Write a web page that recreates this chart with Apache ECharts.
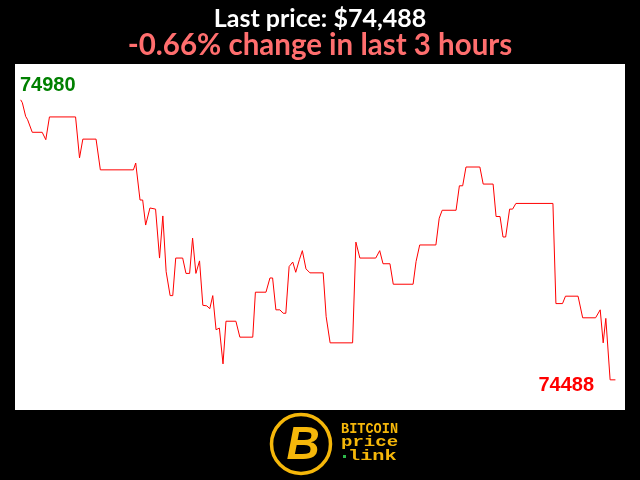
<!DOCTYPE html>
<html>
<head>
<meta charset="utf-8">
<script src="https://cdn.jsdelivr.net/npm/echarts@6/dist/echarts.min.js"></script>
<style>html,body{margin:0;padding:0;background:#000;}#c{width:640px;height:480px;}</style>
</head>
<body>
<div id="c"></div>
<script>
// minutes since start of the 3-hour window
var minutes = [0.0,0.5,1.5,2.1,2.6,3.5,6.5,7.6,8.7,16.6,17.8,18.8,22.8,24.1,34.1,34.8,36.1,36.9,37.8,39.1,39.7,40.8,42.0,43.0,44.0,45.2,46.0,46.9,49.0,50.0,51.1,52.0,53.0,54.1,55.1,56.3,57.2,58.1,59.1,60.1,61.2,62.1,65.1,66.3,70.2,71.0,74.2,75.4,76.2,77.2,78.4,79.4,80.2,81.2,82.3,83.2,84.3,85.2,86.3,87.5,91.5,92.4,93.6,100.4,101.4,102.6,107.4,108.6,109.6,111.7,112.7,118.7,119.6,120.7,125.6,126.6,127.5,131.7,132.7,133.7,134.7,138.9,139.9,142.9,143.8,145.0,145.9,146.7,147.9,148.8,149.8,161.0,161.9,163.9,164.8,168.6,169.2,170.0,173.9,175.3,176.2,177.0,178.3,179.9];
// BTC price in USD
var prices = [74980,74975,74951,74945,74942,74923,74923,74910,74950,74950,74878,74911,74911,74857,74857,74869,74804,74804,74760,74790,74790,74788,74702,74776,74678,74636,74636,74702,74702,74675,74675,74737,74675,74697,74619,74618,74613,74636,74576,74579,74516,74591,74591,74563,74563,74642,74642,74667,74667,74611,74611,74605,74605,74687,74695,74677,74699,74715,74683,74676,74676,74599,74553,74553,74730,74702,74702,74715,74692,74692,74656,74656,74696,74725,74725,74772,74786,74786,74829,74829,74862,74862,74832,74832,74775,74775,74739,74739,74788,74788,74798,74798,74622,74622,74635,74635,74633,74597,74597,74611,74553,74596,74488,74488];
var periodHours = 3;

var first = prices[0], last = prices[prices.length - 1];
var hi = Math.max.apply(null, prices);
var changePct = ((last - first) / first * 100).toFixed(2);
var seriesData = minutes.map(function (m, i) { return [m, prices[i]]; });

var gold = '#f5b70a';
var chart = echarts.init(document.getElementById('c'), null, {renderer: 'canvas'});
chart.setOption({
  backgroundColor: '#000',
  animation: false,
  title: [{
    text: 'Last price: $' + last.toLocaleString('en-US'),
    left: 'center', top: 1,
    textStyle: {color: '#fff', fontSize: 25, fontWeight: 'bold', fontFamily: 'Lato'}
  }, {
    text: changePct + '% change in last ' + periodHours + ' hours',
    left: 'center', top: 25,
    textStyle: {color: '#ff6e6e', fontSize: 29.5, fontWeight: 'bold', fontFamily: 'Lato'}
  }],
  grid: {left: 15, right: 15, top: 64, bottom: 70, show: true, backgroundColor: '#fff', borderWidth: 0},
  xAxis: {type: 'value', min: -1.72, max: 182.8, show: false},
  yAxis: {type: 'value', min: 74435, max: 75043, show: false, splitLine: {show: false}},
  series: [{
    type: 'line', data: seriesData, showSymbol: false, symbol: 'none',
    lineStyle: {color: '#ff0000', width: 1}
  }],
  graphic: [
    {type: 'text', left: 20, top: 75, style: {text: String(hi), fill: '#008000', font: 'bold 20px "Liberation Sans", Arial'}},
    {type: 'text', right: 46, top: 375, style: {text: String(last), fill: '#ff0000', font: 'bold 20px "Liberation Sans", Arial'}},
    {type: 'circle', shape: {cx: 301, cy: 444, r: 29.5}, style: {fill: '#000', stroke: gold, lineWidth: 3.5}},
    {type: 'text', x: 303, y: 446, style: {text: 'B', fill: gold, font: 'italic 900 46px "Liberation Sans"', align: 'center', verticalAlign: 'middle'}},
    {type: 'text', x: 341, y: 429, scaleX: 0.97, style: {text: 'BITCOIN', fill: gold, font: 'bold 14px "Liberation Mono"', verticalAlign: 'middle'}},
    {type: 'text', x: 341, y: 442, scaleX: 1.36, style: {text: 'price', fill: gold, font: 'bold 14px "Liberation Mono"', verticalAlign: 'middle'}},
    {type: 'text', x: 348, y: 456, scaleX: 1.45, style: {text: 'link', fill: gold, font: 'bold 14px "Liberation Mono"', verticalAlign: 'middle'}},
    {type: 'rect', shape: {x: 343, y: 455, width: 3, height: 3}, style: {fill: '#2db84b'}}
  ]
});
</script>
</body>
</html>
